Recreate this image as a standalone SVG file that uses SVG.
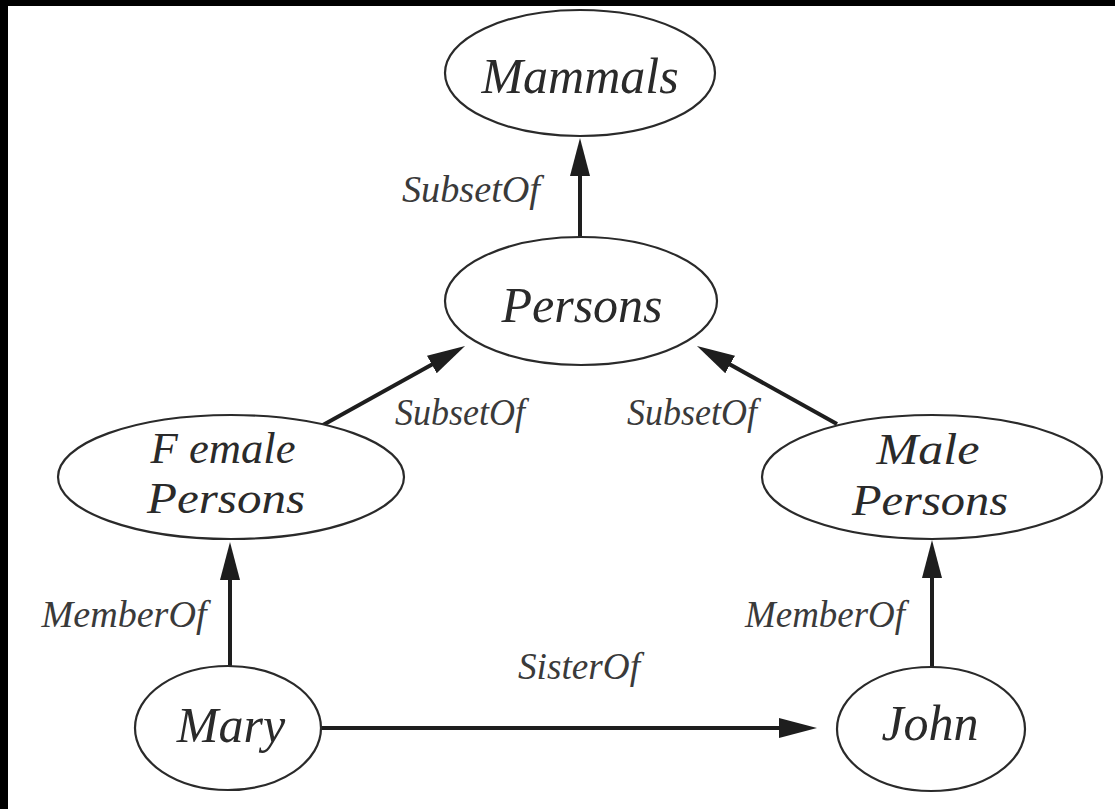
<svg xmlns="http://www.w3.org/2000/svg" width="1115" height="809" viewBox="0 0 1115 809">
<style>
.node ellipse{fill:#fff;stroke:#2a2a2a;stroke-width:2.2}
.node text{font-family:"Liberation Serif","Times New Roman",serif;font-style:italic;font-size:50px;fill:#2a2a2a;text-anchor:middle}
.node text.two{font-size:45px}
.conn line{stroke:#1e1e1e;stroke-width:4;marker-end:url(#ah)}
.lbl{font-family:"Liberation Serif","Times New Roman",serif;font-style:italic;font-size:37px;fill:#3a3a3a;text-anchor:middle}
</style>
<defs>
<marker id="ah" markerUnits="userSpaceOnUse" viewBox="0 0 38 20" markerWidth="38" markerHeight="20" refX="28" refY="10" orient="auto">
<path d="M0,0 L38,10 L0,20 z" fill="#1e1e1e"/>
</marker>
</defs>
<rect x="0" y="0" width="1115" height="809" fill="#000"/>
<rect x="8" y="6" width="1107" height="803" fill="#fff"/>
<g id="connectors" class="conn">
<line x1="580" y1="237" x2="580" y2="148"/>
<line x1="323" y1="425" x2="456.3" y2="350.9"/>
<line x1="837" y1="424" x2="705.7" y2="350.9"/>
<line x1="230" y1="667" x2="230" y2="552"/>
<line x1="932" y1="667" x2="932" y2="550"/>
<line x1="322" y1="728" x2="807" y2="728"/>
</g>
<g id="labels">
<text class="lbl" x="471" y="202" textLength="138" lengthAdjust="spacingAndGlyphs">SubsetOf</text>
<text class="lbl" x="460" y="425" textLength="130" lengthAdjust="spacingAndGlyphs">SubsetOf</text>
<text class="lbl" x="692" y="425" textLength="130" lengthAdjust="spacingAndGlyphs">SubsetOf</text>
<text class="lbl" x="124" y="627" textLength="165" lengthAdjust="spacingAndGlyphs">MemberOf</text>
<text class="lbl" x="825" y="627" textLength="160" lengthAdjust="spacingAndGlyphs">MemberOf</text>
<text class="lbl" x="579" y="679" textLength="122" lengthAdjust="spacingAndGlyphs">SisterOf</text>
</g>
<g id="mammals" class="node">
<ellipse cx="580" cy="73" rx="135" ry="63"/>
<text x="580" y="93">Mammals</text>
</g>
<g id="persons" class="node">
<ellipse cx="581" cy="301" rx="136" ry="64"/>
<text x="582" y="322">Persons</text>
</g>
<g id="female-persons" class="node">
<ellipse cx="231" cy="477" rx="173" ry="62"/>
<text class="two" x="223" y="463" textLength="145" lengthAdjust="spacingAndGlyphs">F emale</text>
<text class="two" x="226" y="513" textLength="158" lengthAdjust="spacingAndGlyphs">Persons</text>
</g>
<g id="male-persons" class="node">
<ellipse cx="932" cy="477" rx="170" ry="62"/>
<text class="two" x="928" y="464" textLength="103" lengthAdjust="spacingAndGlyphs">Male</text>
<text class="two" x="930" y="515" textLength="156" lengthAdjust="spacingAndGlyphs">Persons</text>
</g>
<g id="mary" class="node">
<ellipse cx="228" cy="728" rx="93" ry="62"/>
<text x="231" y="742">Mary</text>
</g>
<g id="john" class="node">
<ellipse cx="931" cy="729" rx="94" ry="62"/>
<text x="930" y="740">John</text>
</g>
</svg>
